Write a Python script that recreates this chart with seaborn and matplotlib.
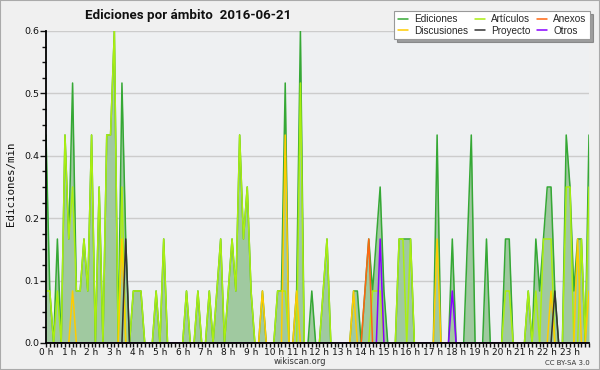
import matplotlib
matplotlib.use("Agg")
import matplotlib.pyplot as plt
from matplotlib.ticker import MultipleLocator, FixedLocator, FormatStrFormatter
from matplotlib.lines import Line2D
from matplotlib.patches import Rectangle
import seaborn as sns
import numpy as np
import pandas as pd
import logging
logging.getLogger("matplotlib.font_manager").setLevel(logging.ERROR)

# 10-minute bins, values in edits per minute
ediciones = [
    0.4, 0.1, 0.0, 0.2, 0.0, 0.4, 0.2, 0.5, 0.1, 0.1, 0.2, 0.1,   # 0-2h
    0.4, 0.0, 0.3, 0.0, 0.4, 0.4, 0.6, 0.0, 0.5, 0.2, 0.0, 0.1,   # 2-4h
    0.1, 0.1, 0.0, 0.0, 0.0, 0.1, 0.0, 0.2, 0.0, 0.0, 0.0, 0.0,   # 4-6h
    0.0, 0.1, 0.0, 0.0, 0.1, 0.0, 0.0, 0.1, 0.0, 0.1, 0.2, 0.0,   # 6-8h
    0.1, 0.2, 0.1, 0.4, 0.2, 0.3, 0.1, 0.0, 0.0, 0.1, 0.0, 0.0,   # 8-10h
    0.0, 0.1, 0.1, 0.5, 0.0, 0.0, 0.1, 0.6, 0.0, 0.0, 0.1, 0.0,   # 10-12h
    0.0, 0.1, 0.2, 0.0, 0.0, 0.0, 0.0, 0.0, 0.0, 0.1, 0.1, 0.0,   # 12-14h
    0.1, 0.2, 0.1, 0.2, 0.3, 0.1, 0.0, 0.0, 0.0, 0.2, 0.2, 0.2,   # 14-16h
    0.2, 0.0, 0.0, 0.0, 0.0, 0.0, 0.0, 0.4, 0.0, 0.0, 0.0, 0.2,   # 16-18h
    0.0, 0.0, 0.0, 0.2, 0.4, 0.0, 0.0, 0.0, 0.2, 0.0, 0.0, 0.0,   # 18-20h
    0.0, 0.2, 0.2, 0.0, 0.0, 0.0, 0.0, 0.1, 0.0, 0.2, 0.1, 0.2,   # 20-22h
    0.3, 0.3, 0.1, 0.0, 0.0, 0.4, 0.3, 0.1, 0.2, 0.2, 0.0, 0.4,   # 22-24h
]
articulos = [
    0.1, 0.1, 0.0, 0.1, 0.0, 0.4, 0.2, 0.3, 0.1, 0.1, 0.2, 0.1,
    0.4, 0.0, 0.3, 0.0, 0.4, 0.4, 0.6, 0.0, 0.3, 0.0, 0.0, 0.1,
    0.1, 0.1, 0.0, 0.0, 0.0, 0.1, 0.0, 0.2, 0.0, 0.0, 0.0, 0.0,
    0.0, 0.1, 0.0, 0.0, 0.1, 0.0, 0.0, 0.1, 0.0, 0.1, 0.2, 0.0,
    0.1, 0.2, 0.1, 0.4, 0.2, 0.3, 0.1, 0.0, 0.0, 0.0, 0.0, 0.0,
    0.0, 0.1, 0.1, 0.1, 0.0, 0.0, 0.0, 0.5, 0.0, 0.0, 0.0, 0.0,
    0.0, 0.1, 0.2, 0.0, 0.0, 0.0, 0.0, 0.0, 0.0, 0.0, 0.0, 0.0,
    0.0, 0.0, 0.1, 0.1, 0.1, 0.0, 0.0, 0.0, 0.0, 0.2, 0.2, 0.0,
    0.2, 0.0, 0.0, 0.0, 0.0, 0.0, 0.0, 0.0, 0.0, 0.0, 0.0, 0.0,
    0.0, 0.0, 0.0, 0.0, 0.0, 0.0, 0.0, 0.0, 0.0, 0.0, 0.0, 0.0,
    0.0, 0.1, 0.1, 0.0, 0.0, 0.0, 0.0, 0.1, 0.0, 0.1, 0.0, 0.2,
    0.2, 0.2, 0.0, 0.0, 0.0, 0.3, 0.3, 0.0, 0.0, 0.2, 0.0, 0.3,
]
discusiones = [
    0.0, 0.0, 0.0, 0.0, 0.0, 0.0, 0.0, 0.1, 0.0, 0.0, 0.0, 0.0,
    0.0, 0.0, 0.0, 0.0, 0.0, 0.0, 0.0, 0.0, 0.2, 0.0, 0.0, 0.0,
    0.0, 0.0, 0.0, 0.0, 0.0, 0.0, 0.0, 0.0, 0.0, 0.0, 0.0, 0.0,
    0.0, 0.0, 0.0, 0.0, 0.0, 0.0, 0.0, 0.0, 0.0, 0.0, 0.0, 0.0,
    0.0, 0.0, 0.0, 0.0, 0.0, 0.0, 0.0, 0.0, 0.0, 0.1, 0.0, 0.0,
    0.0, 0.0, 0.0, 0.4, 0.0, 0.0, 0.1, 0.0, 0.0, 0.0, 0.0, 0.0,
    0.0, 0.0, 0.0, 0.0, 0.0, 0.0, 0.0, 0.0, 0.0, 0.1, 0.0, 0.0,
    0.0, 0.0, 0.0, 0.0, 0.0, 0.0, 0.0, 0.0, 0.0, 0.0, 0.0, 0.0,
    0.0, 0.0, 0.0, 0.0, 0.0, 0.0, 0.0, 0.2, 0.0, 0.0, 0.0, 0.0,
    0.0, 0.0, 0.0, 0.0, 0.0, 0.0, 0.0, 0.0, 0.0, 0.0, 0.0, 0.0,
    0.0, 0.0, 0.0, 0.0, 0.0, 0.0, 0.0, 0.0, 0.0, 0.0, 0.0, 0.0,
    0.0, 0.1, 0.0, 0.0, 0.0, 0.0, 0.0, 0.0, 0.2, 0.0, 0.0, 0.1,
]
anexos = [0.0] * 84 + [0.1, 0.2] + [0.0] * 58
proyecto = [0.0] * 21 + [0.2] + [0.0] * 112 + [0.1] + [0.0] * 9
otros = [0.0] * 88 + [0.2] + [0.0] * 18 + [0.1] + [0.0] * 36

hours = [k / 6 for k in range(len(ediciones))]
hour_labels = [f"{h} h" for h in range(24)]

series_names = ["Ediciones", "Artículos", "Discusiones", "Anexos", "Proyecto", "Otros"]
series_vals = [ediciones, articulos, discusiones, anexos, proyecto, otros]
series_colors = ["#35a835", "#aaee11", "#ffcc00", "#ff6611", "#333333", "#8800ff"]

sns.set_style("ticks")
plt.rcParams["font.family"] = ["DejaVu Sans"]

fig = plt.figure(figsize=(6, 3.7), dpi=100)
fig.patch.set_facecolor("#f0f0f0")
ax = fig.add_axes([46 / 600, 27 / 370, 543 / 600, 312 / 370])
ax.set_facecolor("#eef0f2")

ax.fill_between(hours, 0, ediciones, color="#a0c9a0", lw=0, zorder=1)
for name, vals, col in zip(series_names, series_vals, series_colors):
    df = pd.DataFrame({"h": hours, "v": vals})
    sns.lineplot(data=df, x="h", y="v", ax=ax, color=col, lw=1.1, zorder=2,
                 estimator=None, legend=False)

ax.set_xlim(0, hours[-1])
ax.set_ylim(0, 0.6)
ax.set_xlabel("")
ax.set_ylabel("")

ax.xaxis.set_major_locator(FixedLocator(list(range(24))))
ax.set_xticklabels(hour_labels)
ax.xaxis.set_minor_locator(MultipleLocator(1 / 6))
ax.yaxis.set_major_locator(MultipleLocator(0.12))
ax.yaxis.set_minor_locator(MultipleLocator(0.03))
ax.yaxis.set_major_formatter(FormatStrFormatter("%.1f"))
ax.tick_params(axis="y", which="major", length=4, width=1, labelsize=6.8,
               colors="#111111", pad=1)
ax.tick_params(axis="x", which="major", length=3, width=1, labelsize=6.5,
               colors="#111111", pad=0.3)
ax.tick_params(axis="both", which="minor", length=3, width=1, colors="#111111")
ax.grid(axis="y", which="major", color="#cccccc", lw=1)
ax.set_axisbelow(True)
for s in ["top", "right"]:
    ax.spines[s].set_visible(False)
for s in ["left", "bottom"]:
    ax.spines[s].set_color("#000000")
    ax.spines[s].set_linewidth(1.3)
    ax.spines[s].set_zorder(5)

title = fig.text(85 / 600, 1 - 16 / 370, "Ediciones por ámbito  2016-06-21",
                 fontsize=10.5, fontweight="bold", va="center", ha="left",
                 color="#111111",
                 family=["Liberation Sans Narrow", "Roboto", "DejaVu Sans"])
fig.text(11 / 600, 1 - 184 / 370, "Ediciones/min", rotation=90, fontsize=7.8,
         family="DejaVu Sans Mono", va="center", ha="center", color="#111111")
fig.text(300 / 600, 1 - 362 / 370, "wikiscan.org", fontsize=6,
         va="center", ha="center", color="#333333")
fig.text(590 / 600, 1 - 363 / 370, "CC BY-SA 3.0", fontsize=5,
         va="center", ha="right", color="#333333")

handles = {n: Line2D([], [], color=c, lw=1.1) for n, c in zip(series_names, series_colors)}
order = ["Ediciones", "Discusiones", "Artículos", "Proyecto", "Anexos", "Otros"]
leg = fig.legend([handles[n] for n in order], order, ncol=3, loc="upper right",
                 bbox_to_anchor=(590 / 600, 1 - 11 / 370),
                 prop={"family": "Liberation Sans", "size": 7.2},
                 frameon=True, fancybox=False, shadow=True, handlelength=1.0,
                 handletextpad=0.6, columnspacing=0.7, labelspacing=0.1,
                 borderpad=0.35, borderaxespad=0)
leg.get_frame().set_edgecolor("#999999")
leg.get_frame().set_facecolor("#ffffff")
leg.get_frame().set_linewidth(0.8)

# fit the title to the reference width
fig.canvas.draw()
w = title.get_window_extent().width
title.set_fontsize(10.5 * 205 / w)

fig.patches.append(Rectangle((0, 0), 1, 1, transform=fig.transFigure, fill=False,
                             edgecolor="#aaaaaa", lw=1.5))

fig.savefig("out.png", dpi=100, facecolor=fig.get_facecolor())
